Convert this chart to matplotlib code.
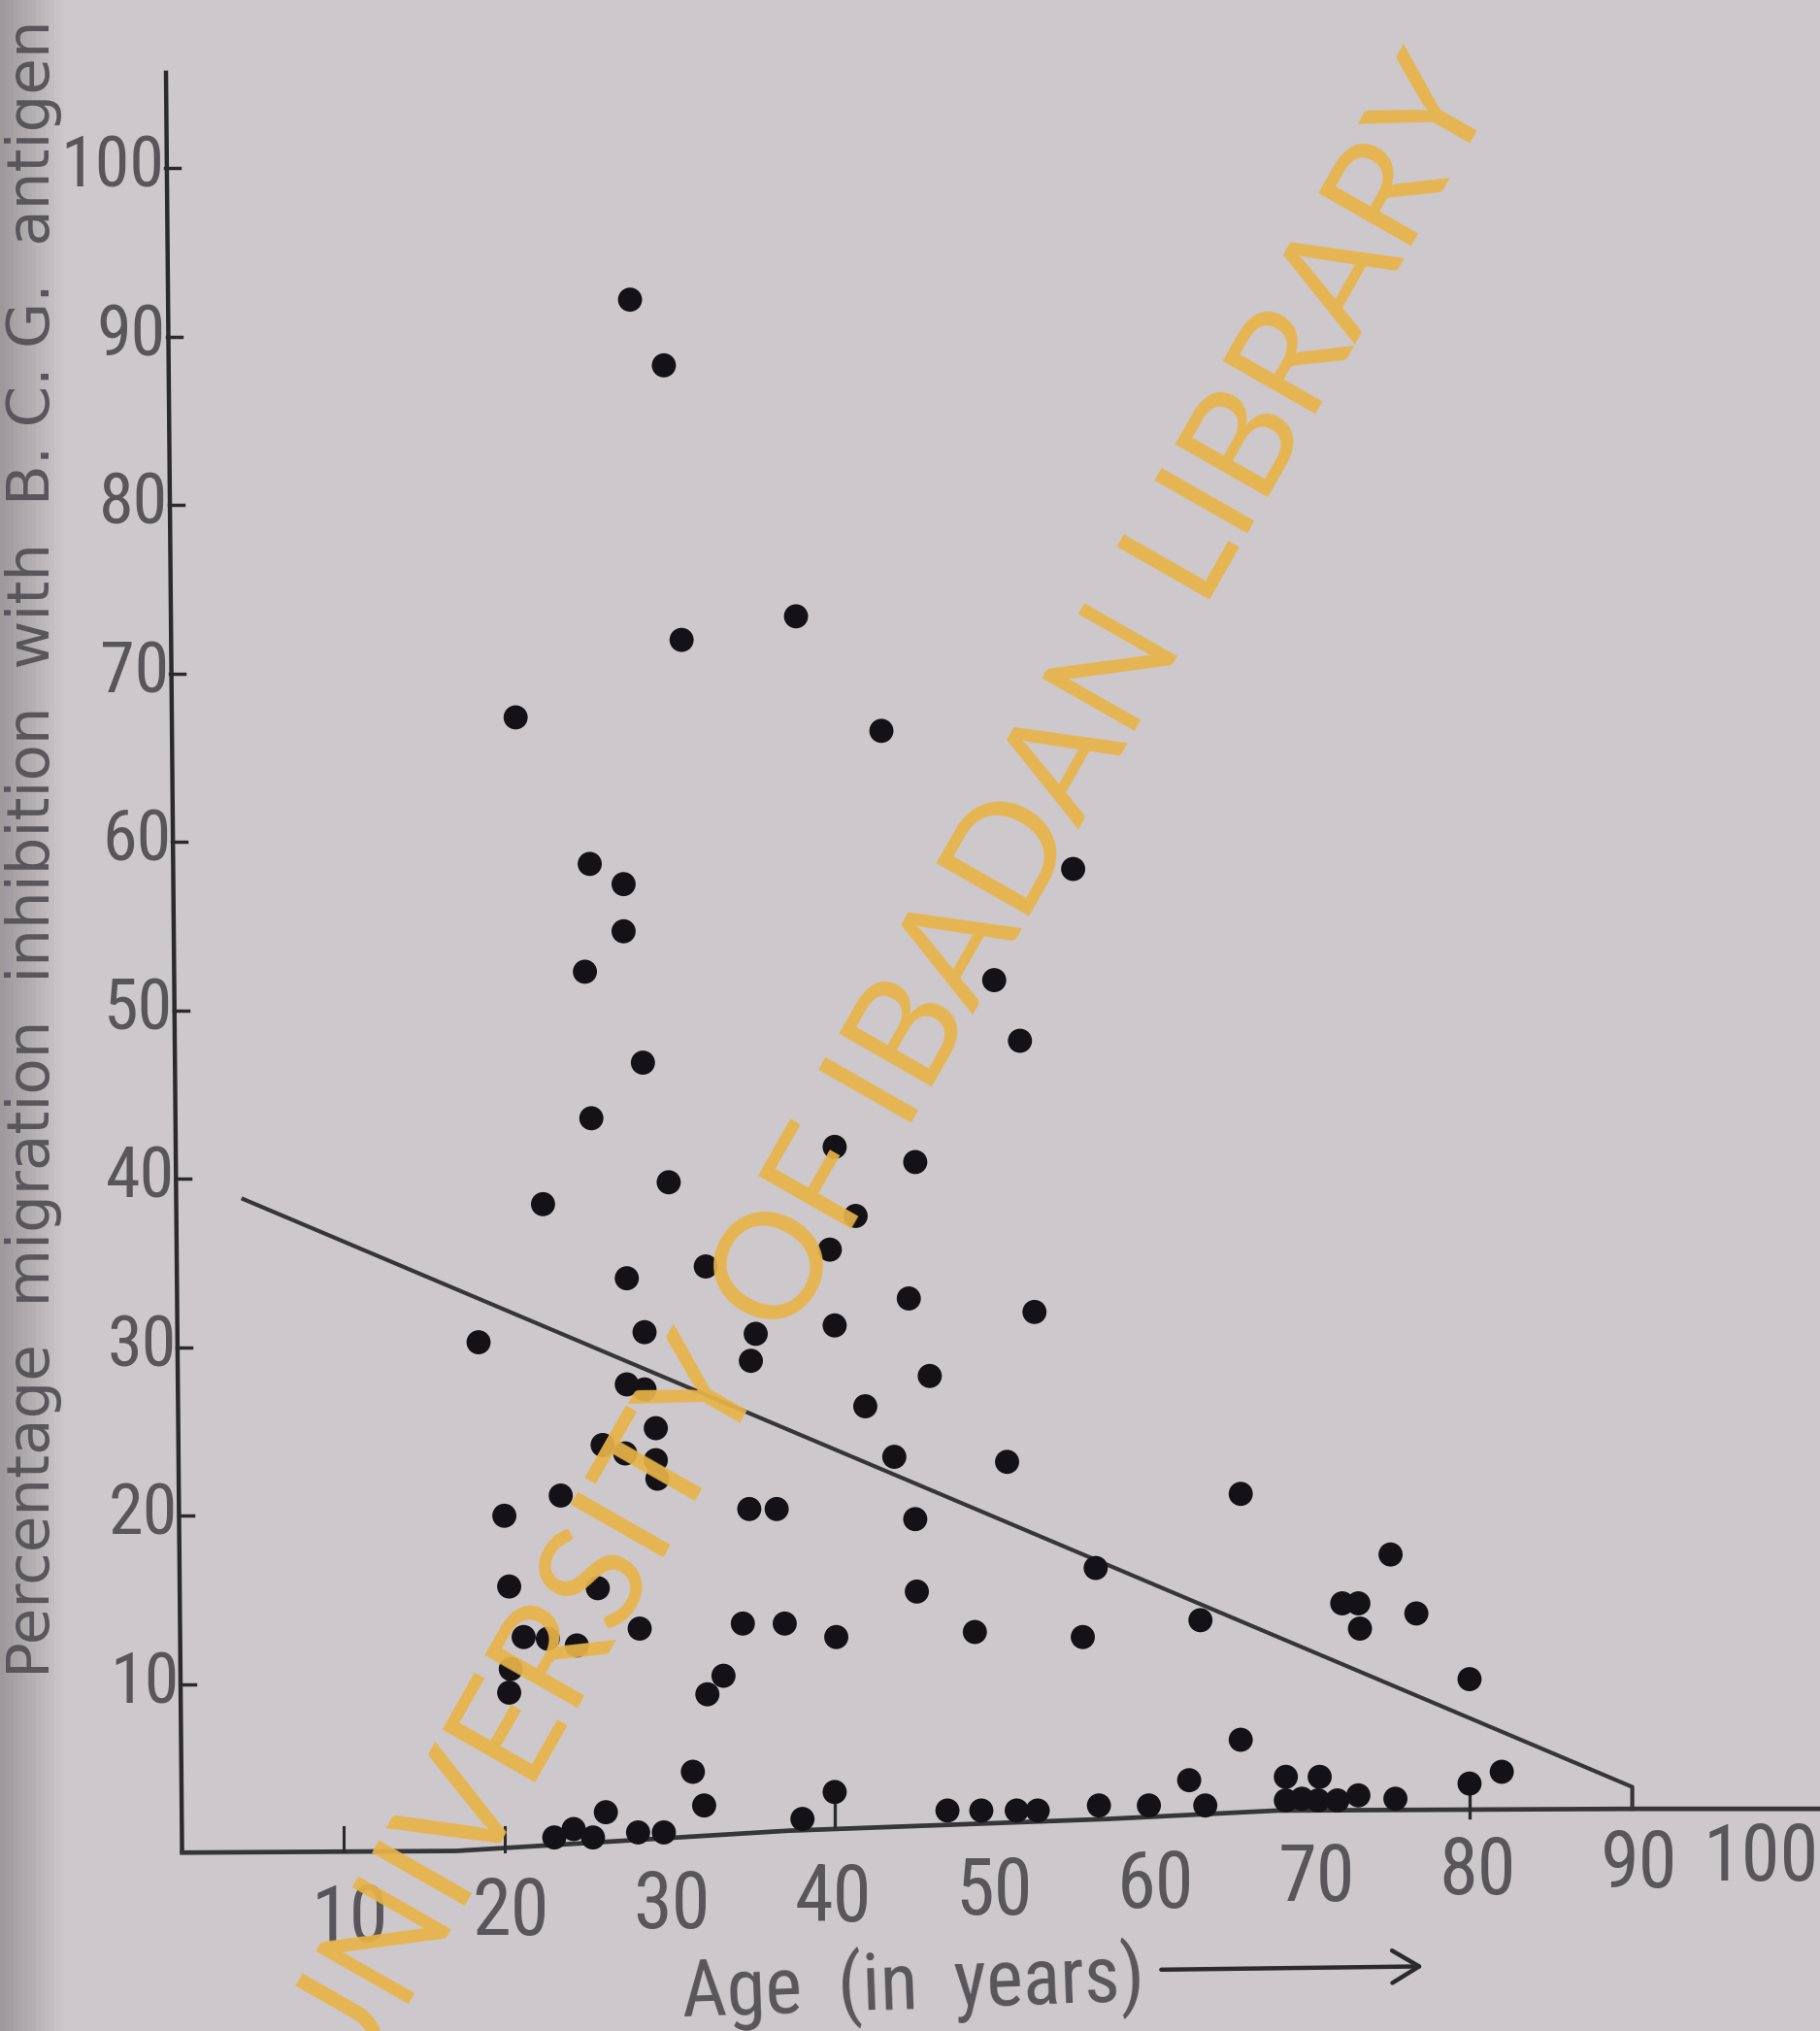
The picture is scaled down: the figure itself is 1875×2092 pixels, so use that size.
import numpy as np
import matplotlib
matplotlib.use("Agg")
import matplotlib.pyplot as plt
from matplotlib import font_manager
from matplotlib.font_manager import FontProperties

# ---------------- data ----------------
ages = [27.8, 29.9, 38.1, 31.0, 20.7, 43.4, 25.3, 27.4, 55.3, 27.4, 25.0, 50.4, 52.0,
        28.6, 25.4, 40.5, 45.5, 30.2, 22.4, 41.8, 40.2, 32.5, 27.6, 45.1, 52.9, 40.5,
        28.7, 35.6, 18.4, 35.3, 46.4, 27.6, 28.7, 42.4, 29.4, 26.1, 27.5, 29.4, 44.2,
        51.2, 29.5, 23.5, 65.7, 20.0, 35.2, 36.9, 45.5, 75.0, 56.7, 20.3, 25.8, 45.6,
        72.0, 73.0, 76.6, 34.8, 37.4, 63.2, 28.4, 73.1, 21.2, 22.7, 40.6, 49.2, 55.9,
        24.5, 20.4, 79.9, 33.6, 32.6, 20.3, 31.7, 65.7, 62.5, 81.9, 79.9, 32.4, 40.5,
        38.5, 26.3, 23.1, 24.3, 25.5, 28.3, 29.9, 47.5, 49.6, 51.8, 53.1, 56.9, 60.0,
        63.5, 68.5, 70.6, 68.5, 69.5, 70.5, 71.7, 73.0, 75.3]
inhibition = [92.2, 88.3, 73.4, 72.0, 67.4, 66.6, 58.7, 57.5, 58.4, 54.7, 52.3, 51.8, 48.2,
              46.9, 43.6, 41.9, 41.0, 39.8, 38.5, 37.8, 35.8, 34.8, 34.1, 32.9, 32.1, 31.3,
              30.9, 30.8, 30.3, 29.2, 28.3, 27.8, 27.5, 26.5, 25.2, 24.2, 23.7, 23.3, 23.5,
              23.2, 22.2, 21.2, 21.3, 20.0, 20.4, 20.4, 19.8, 17.7, 16.9, 15.8, 15.7, 15.5,
              14.8, 14.8, 14.2, 13.6, 13.6, 13.8, 13.3, 13.3, 12.8, 12.7, 12.8, 13.1, 12.8,
              12.3, 10.9, 10.3, 10.5, 9.4, 9.5, 4.8, 6.7, 4.3, 4.8, 4.1, 2.8, 3.6,
              2.0, 2.4, 0.9, 1.4, 0.9, 1.2, 1.2, 2.5, 2.5, 2.5, 2.5, 2.8, 2.8,
              2.8, 4.5, 4.5, 3.1, 3.2, 3.1, 3.1, 3.4, 3.2]

# stemmed (lollipop) points near the base line
stem_ages = [40.5, 79.9]
stem_vals = [3.6, 4.1]

# regression line (age, %)
reg_ages = [3.8, 90.0, 90.0]
reg_vals = [38.8, 3.9, 2.6]

# hand-drawn base line
base_ages = [0.0, 17.0, 37.6, 57.5, 68.0, 90.0, 102.0]
base_vals = [0.0, 0.1, 1.3, 2.0, 2.5, 2.6, 2.6]

x_ticks = [10, 20, 30, 40, 50, 60, 70, 80, 90, 100]
x_tick_labels = ["10", "20", "30", "40", "50", "60", "70", "80", "90", "100"]
y_ticks = [10, 20, 30, 40, 50, 60, 70, 80, 90, 100]
y_tick_labels = ["10", "20", "30", "40", "50", "60", "70", "80", "90", "100"]

x_label = "Age  (in  years)"
y_label = "Percentage  migration  inhibition  with  B. C. G.  antigen"
watermark = "UNIVERSITY OF IBADAN LIBRARY"

# ---------------- fonts ----------------
ttf = font_manager.fontManager.ttflist
avail = {f.name for f in ttf}


def find_narrow():
    prefs = ["Liberation Sans Narrow", "Roboto Condensed", "Open Sans Condensed",
             "Noto Sans Condensed", "DejaVu Sans"]
    cands = [f for f in ttf
             if (("Narrow" in f.name or "Condensed" in f.name or
                  str(f.stretch) in ("condensed", "semi-condensed", "extra-condensed"))
                 and "Mono" not in f.name and "Serif" not in f.name
                 and f.style == "normal")]
    for p in prefs:
        for f in cands:
            if f.name == p and f.weight in (400, "normal", "regular"):
                return f.fname
        for f in cands:
            if f.name == p:
                return f.fname
    if cands:
        return cands[0].fname
    return None


narrow_file = find_narrow()


def nfont(size):
    if narrow_file:
        return FontProperties(fname=narrow_file, size=size)
    return FontProperties(family=["Liberation Sans", "DejaVu Sans"], size=size)


wm_family = ["Lato", "DejaVu Sans"] if "Lato" in avail else ["DejaVu Sans"]

# ---------------- figure ----------------
fig = plt.figure(figsize=(18.75, 20.92), dpi=100)
ax = fig.add_axes([0, 0, 1, 1])
XL = (-11.30, 101.65)
YL = (-10.59, 109.99)
ax.set_xlim(*XL)
ax.set_ylim(*YL)
ax.axis("off")

# paper background with darker left edge
grad = np.linspace(0, 1, 400)
shade = np.clip(grad / 0.035, 0, 1)
base_col = np.array([0.805, 0.788, 0.800])
edge_col = np.array([0.62, 0.60, 0.61])
row = edge_col[None, :] * (1 - shade[:, None]) + base_col[None, :] * shade[:, None]
img = np.repeat(row[None, :, :], 2, axis=0)
ax.imshow(img, extent=[XL[0], XL[1], YL[0], YL[1]], aspect="auto", zorder=0)

ink = "#2b2a2c"
grey = "#58565a"

# axes lines
ax.plot([-1.0, 0.0], [105.8, 0.0], color=ink, lw=3.2, zorder=2, solid_capstyle="butt")
ax.plot(base_ages, base_vals, color="#363537", lw=3.4, zorder=2)
ax.plot(reg_ages, reg_vals, color="#363537", lw=3.0, zorder=2)

# y ticks and labels
for v, lab in zip(y_ticks, y_tick_labels):
    x0 = -0.0105 * v
    ax.plot([x0, x0 + 0.9], [v, v], color=ink, lw=2.5, zorder=2)
    ax.text(x0 - 0.05, v, lab, ha="right", va="center", fontproperties=nfont(52),
            color=grey, zorder=3)

# x ticks (hand drawn only near 10 and 20)
for v in x_ticks[:2]:
    ax.plot([v, v], [0.05 if v < 17 else 0.1, 1.5], color=ink, lw=2.2, zorder=2)
for v, lab in zip(x_ticks, x_tick_labels):
    yy = -4.4 + 0.04 * v
    if v == 100:
        ax.text(XL[1] - 0.05, yy, lab, ha="right", va="center",
                fontproperties=nfont(58), color=grey, zorder=3)
    else:
        ax.text(v + 0.4, yy, lab, ha="center", va="center",
                fontproperties=nfont(58), color=grey, zorder=3)

# axis titles
ax.text(-9.2, 59.6, y_label, rotation=90, ha="center", va="center", fontsize=44,
        color=grey, family=["DejaVu Sans"], zorder=3)
ax.text(45.4, -7.9, x_label, ha="center", va="center", fontproperties=nfont(58),
        color=grey, zorder=3, rotation=2)
ax.annotate("", xy=(77.2, -6.75), xytext=(60.6, -6.95),
            arrowprops=dict(arrowstyle="->,head_length=0.5,head_width=0.3",
                            color=ink, lw=3.2, mutation_scale=40),
            zorder=3)

# stems
for a, v in zip(stem_ages, stem_vals):
    ax.plot([a, a], [v, v - 2.0], color=ink, lw=2.4, zorder=3)

# points
ax.scatter(ages, inhibition, s=320, color="#141216", edgecolors="none", zorder=4)

# watermark
fig.text(0.487, 0.467, watermark, rotation=60.3, rotation_mode="anchor",
         ha="center", va="center", fontsize=110, color="#e8b449", alpha=0.93,
         family=wm_family, fontweight="normal", zorder=10)

fig.savefig("out.png", dpi=100, facecolor=fig.get_facecolor())
